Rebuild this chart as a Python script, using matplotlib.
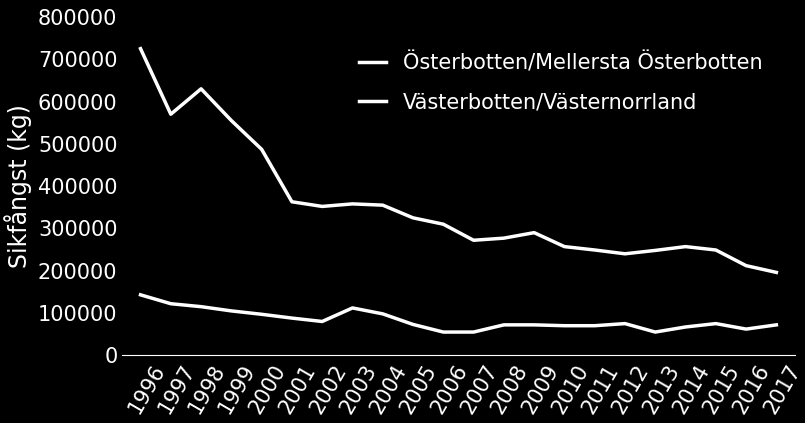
import matplotlib.pyplot as plt

years = [str(y) for y in range(1996, 2018)]
osterbotten = [725000, 570000, 630000, 555000, 487000, 363000, 352000, 358000, 355000, 325000, 310000,
               272000, 277000, 290000, 257000, 249000, 240000, 248000, 257000, 249000, 212000, 196000]
vasterbotten = [143000, 122000, 115000, 105000, 97000, 88000, 80000, 112000, 98000, 73000, 55000,
                55000, 72000, 72000, 70000, 70000, 75000, 55000, 67000, 75000, 62000, 72000]

plt.rcParams['font.family'] = ['Liberation Sans Narrow', 'DejaVu Sans']
fig = plt.figure(figsize=(8.05, 4.23), dpi=100, facecolor='black')
ax = fig.add_axes([0.152, 0.16, 0.835, 0.80], facecolor='black')
x = range(len(years))
ax.plot(x, osterbotten, color='white', lw=2.5, label='Österbotten/Mellersta Österbotten')
ax.plot(x, vasterbotten, color='white', lw=2.5, label='Västerbotten/Västernorrland')

ax.set_ylim(0, 800000)
ax.set_yticks(range(0, 800001, 100000))
ax.set_xlim(-0.6, len(years) - 0.4)
ax.set_xticks([i + 0.35 for i in x])
ax.set_xticklabels(years, rotation=60, ha='right', rotation_mode='anchor')
ax.tick_params(colors='white', labelsize=15, length=0)
ax.tick_params(axis='x', pad=4)
for s in ['top', 'right', 'left']:
    ax.spines[s].set_visible(False)
ax.spines['bottom'].set_color('white')
ax.set_ylabel('Sikfångst (kg)', color='white', fontsize=17)
leg = ax.legend(loc='upper right', bbox_to_anchor=(0.98, 0.95), frameon=False, fontsize=15,
                labelcolor='white', handlelength=1.3, labelspacing=0.9)
fig.savefig('out.png', facecolor='black')
